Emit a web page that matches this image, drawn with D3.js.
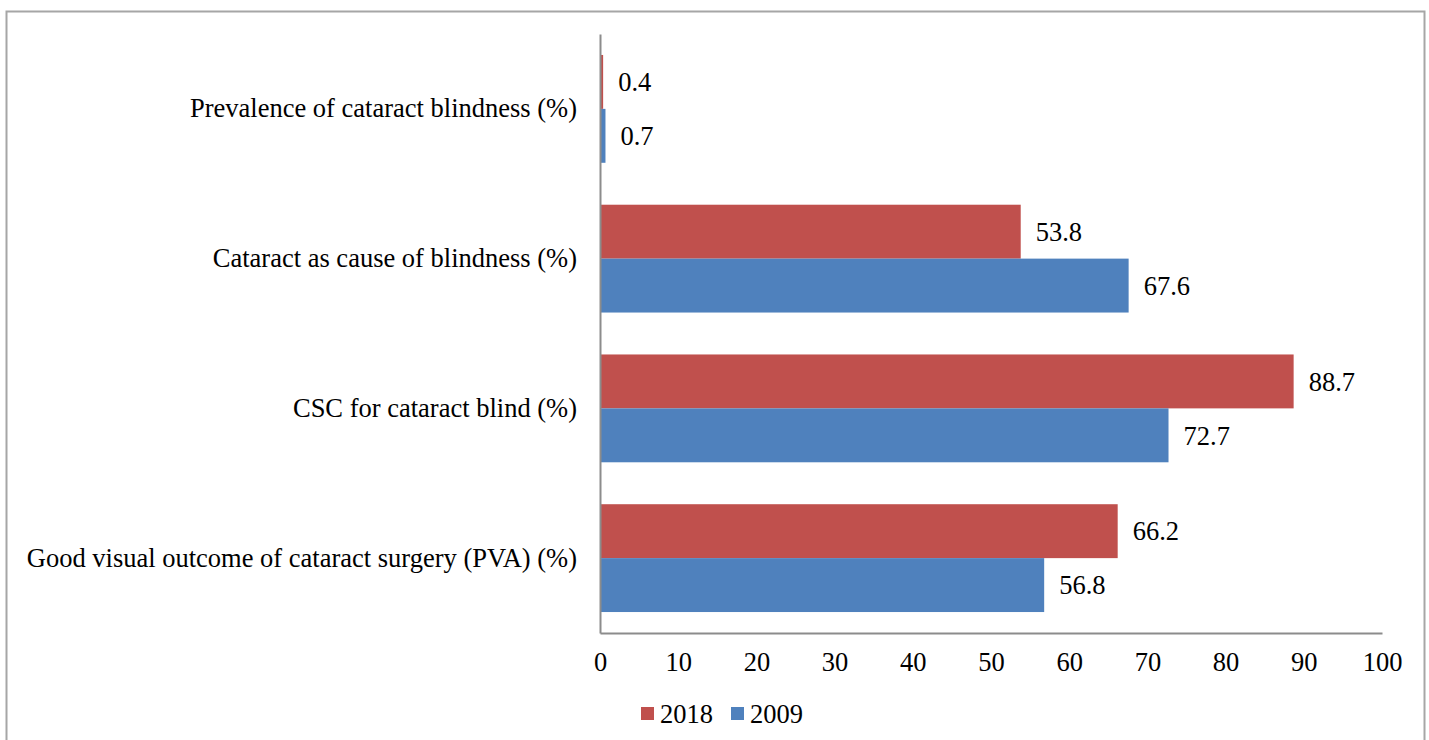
<!DOCTYPE html>
<html><head><meta charset="utf-8">
<script src="https://cdn.jsdelivr.net/npm/d3@7"></script>
<style>body{margin:0;background:#fff;}svg{display:block;}</style>
</head><body>
<svg id="chart" width="1429" height="740"></svg>
<script>
const categories = ["Prevalence of cataract blindness (%)", "Cataract as cause of blindness (%)", "CSC for cataract blind (%)", "Good visual outcome of cataract surgery (PVA) (%)"];
const series = ["2018", "2009"];
const values2018 = [0.4, 53.8, 88.7, 66.2];
const values2009 = [0.7, 67.6, 72.7, 56.8];
const xTicks = [0, 10, 20, 30, 40, 50, 60, 70, 80, 90, 100];
const colors = {"2018": "#C0504D", "2009": "#4F81BD"};

(function(){
const svg = d3.select("#chart");
const font = "'Liberation Serif','Times New Roman',serif";
const fs = 26.5;

svg.append("rect").attr("x", 6.5).attr("y", 11.5).attr("width", 1418).attr("height", 740)
  .attr("fill", "#fff").attr("stroke", "#a6a6a6").attr("stroke-width", 2);

const pLeft = 600, pRight = 1382, pTop = 34, pBottom = 633;
const x = d3.scaleLinear().domain([0, 100]).range([pLeft, pRight]);
const y = d3.scaleBand().domain(categories).range([pTop, pBottom]).paddingInner(0.28).paddingOuter(0.14);
const y1 = d3.scaleBand().domain(series).range([0, y.bandwidth()]);

const data = series.map(s => ({s, vals: s === "2018" ? values2018 : values2009}));
const g = svg.append("g");
data.forEach(d => {
  categories.forEach((c, i) => {
    const v = d.vals[i];
    g.append("rect").attr("x", x(0)).attr("y", y(c) + y1(d.s))
      .attr("width", x(v) - x(0)).attr("height", y1.bandwidth()).attr("fill", colors[d.s]);
    g.append("text").attr("x", x(v) + 15).attr("y", y(c) + y1(d.s) + y1.bandwidth() / 2)
      .attr("dy", "0.35em").attr("font-family", font).attr("font-size", fs).attr("fill", "#000").text(v.toFixed(1));
  });
});

const xAxis = svg.append("g").attr("transform", `translate(0,${pBottom})`)
  .call(d3.axisBottom(x).tickValues(xTicks).tickSize(0).tickPadding(19).tickFormat(d3.format("d")));
xAxis.select(".domain").attr("stroke", "#8c8c8c").attr("stroke-width", 2);
xAxis.selectAll("text").attr("font-family", font).attr("font-size", fs).attr("fill", "#000");

const yAxis = svg.append("g").attr("transform", `translate(${pLeft},0)`)
  .call(d3.axisLeft(y).tickSize(0).tickPadding(23));
yAxis.select(".domain").attr("stroke", "#8c8c8c").attr("stroke-width", 2);
yAxis.selectAll("text").attr("font-family", font).attr("font-size", fs).attr("fill", "#000");

const legend = svg.append("g");
const lx = [641, 731];
series.forEach((s, i) => {
  legend.append("rect").attr("x", lx[i]).attr("y", 707).attr("width", 13).attr("height", 13).attr("fill", colors[s]);
  legend.append("text").attr("x", lx[i] + 19).attr("y", 714).attr("dy", "0.35em")
    .attr("font-family", font).attr("font-size", fs).attr("fill", "#000").text(s);
});
})();
</script>
</body></html>
